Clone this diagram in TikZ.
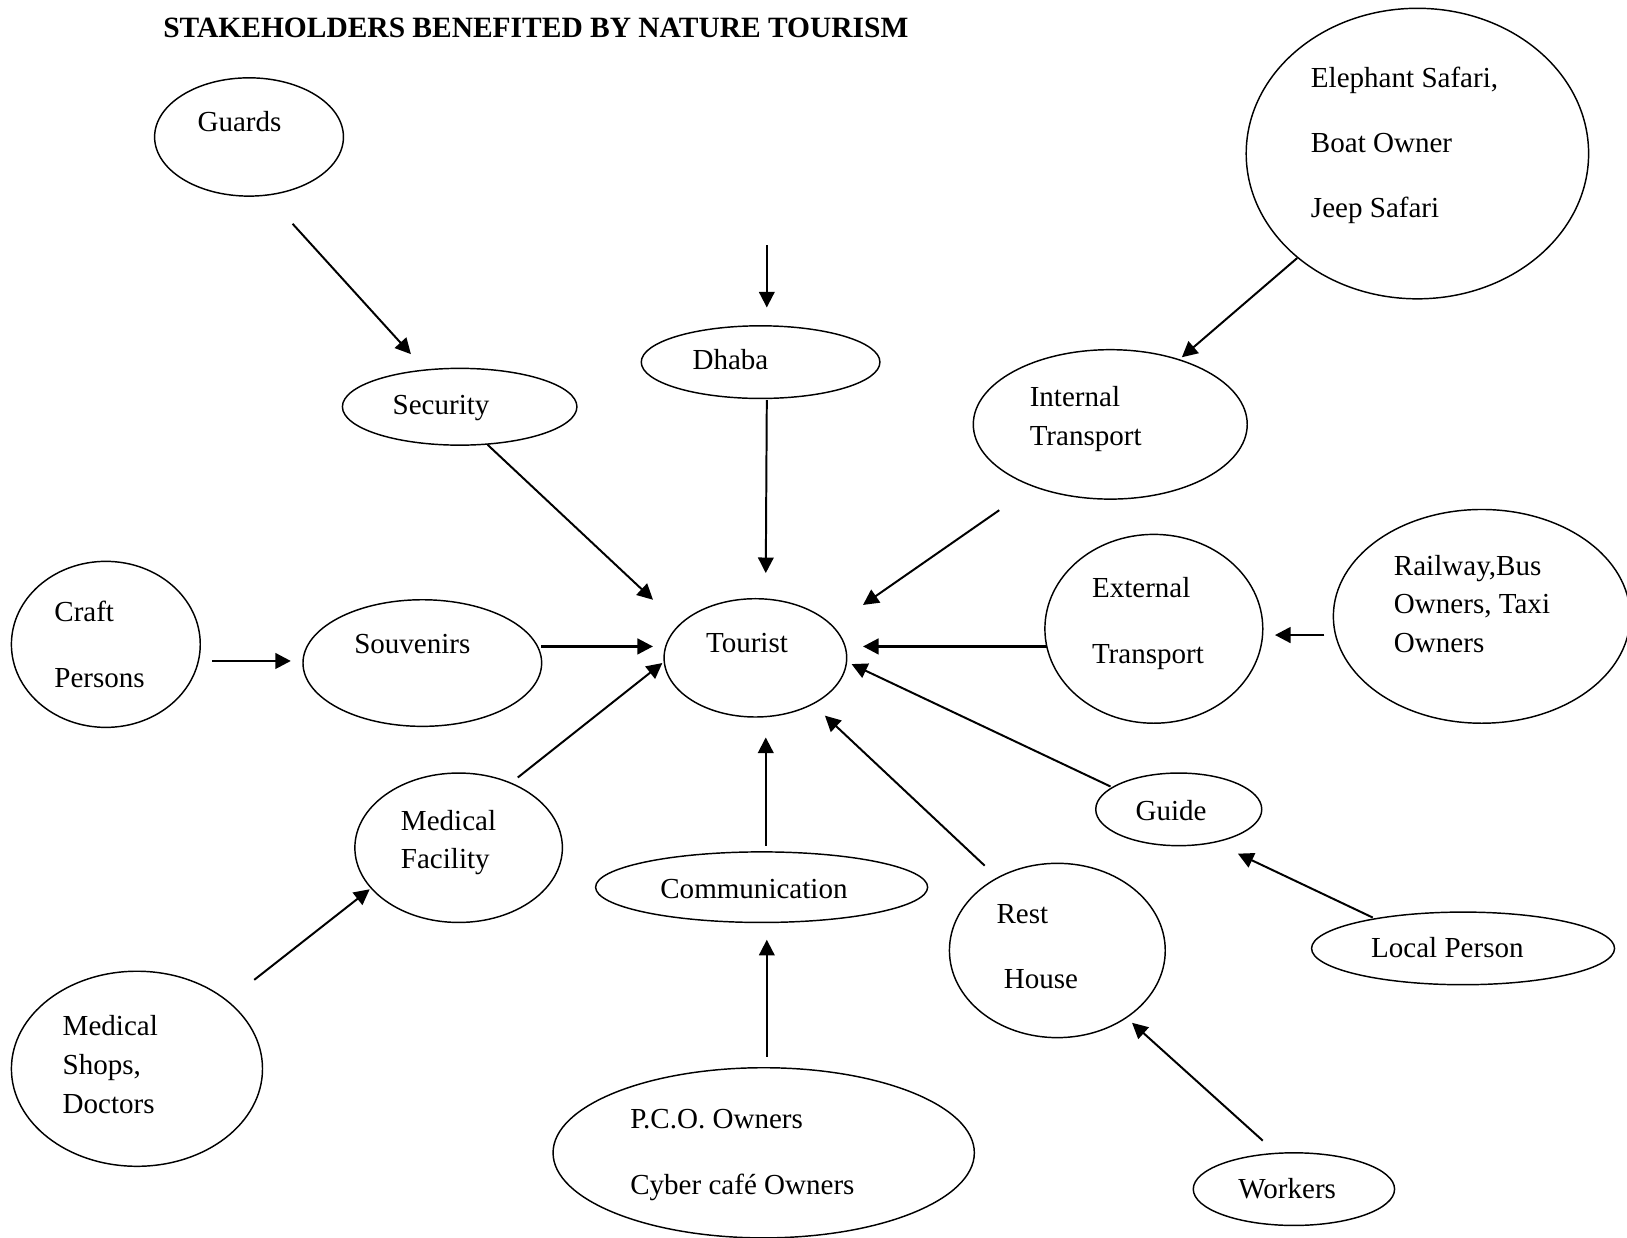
\documentclass[tikz,border=0pt]{standalone}
\usepackage{fontspec}
\setmainfont{Liberation Serif}
\usetikzlibrary{shapes.geometric, arrows.meta, calc}

\begin{document}
\begin{tikzpicture}[
    x=0.5pt, y=-0.5pt,
    oval/.style={ellipse, draw, line width=0.7pt, inner sep=0pt},
    txt/.style={anchor=west, inner sep=0pt, align=left, font=\fontsize{14}{18.7}\selectfont},
    txtwide/.style={txt, font=\fontsize{14}{31.5}\selectfont},
    arrow/.style={-{Triangle[length=7.5pt, width=7.5pt]}, line width=0.95pt},
    heavyarrow/.style={arrow, line width=1.3pt}
]
    \useasboundingbox (0,0) rectangle (1568,1193);

    \node[anchor=west, inner sep=0pt, font=\bfseries\fontsize{14.2}{17}\selectfont] (title) at (157,27) {STAKEHOLDERS BENEFITED BY NATURE TOURISM};

    % ovals
    \node[oval, minimum width=91pt, minimum height=57pt] (guards) at (240,132) {};
    \node[oval, minimum width=165pt, minimum height=140pt] (elephant) at (1366,148) {};
    \node[oval, minimum width=113pt, minimum height=37pt] (security) at (443,392) {};
    \node[oval, minimum width=115pt, minimum height=35pt] (dhaba) at (733,349) {};
    \node[oval, minimum width=132pt, minimum height=72pt] (internal) at (1070,409) {};
    \node[oval, minimum width=91pt, minimum height=80pt] (craft) at (102,621) {};
    \node[oval, minimum width=115pt, minimum height=61pt] (souvenirs) at (407,639) {};
    \node[oval, minimum width=88pt, minimum height=57pt] (tourist) at (728,634) {};
    \node[oval, minimum width=105pt, minimum height=91pt] (external) at (1112,606) {};
    \node[oval, minimum width=143pt, minimum height=103pt] (railway) at (1428,594) {};
    \node[oval, minimum width=80pt, minimum height=35pt] (guide) at (1136,780) {};
    \node[oval, minimum width=100pt, minimum height=72pt] (medical) at (442,817) {};
    \node[oval, minimum width=160pt, minimum height=34pt] (comm) at (734,855) {};
    \node[oval, minimum width=104pt, minimum height=84pt] (rest) at (1019,916) {};
    \node[oval, minimum width=146pt, minimum height=35pt] (local) at (1410,914) {};
    \node[oval, minimum width=121pt, minimum height=94pt] (shops) at (132,1030) {};
    \node[oval, minimum width=203pt, minimum height=82pt] (pco) at (736,1111) {};
    \node[oval, minimum width=97pt, minimum height=35pt] (workers) at (1247,1146) {};

    % texts
    \node[txt] (guards-t) at (190,117) {Guards};
    \node[txtwide] (elephant-t) at (1263,140) {Elephant Safari,\\Boat Owner\\Jeep Safari};
    \node[txt] (security-t) at (378,393) {Security};
    \node[txt] (dhaba-t) at (667,347) {Dhaba};
    \node[txt] (internal-t) at (992,404) {Internal\\Transport};
    \node[txtwide] (craft-t) at (52,621) {Craft\\Persons};
    \node[txt] (souvenirs-t) at (341,621) {Souvenirs};
    \node[txt] (tourist-t) at (680,620) {Tourist};
    \node[txtwide] (external-t) at (1052,601) {External\\Transport};
    \node[txt] (railway-t) at (1343,582) {Railway,Bus\\Owners, Taxi\\Owners};
    \node[txt] (guide-t) at (1094,781) {Guide};
    \node[txt] (medical-t) at (386,812) {Medical\\Facility};
    \node[txt] (comm-t) at (636,857) {Communication};
    \node[txtwide] (rest-t) at (960,912) {Rest\\\hspace{3.5pt}House};
    \node[txt] (local-t) at (1321,913) {Local Person};
    \node[txt] (shops-t) at (60,1026) {Medical\\Shops,\\Doctors};
    \node[txtwide] (pco-t) at (607,1113) {P.C.O. Owners\\Cyber café Owners};
    \node[txt] (workers-t) at (1193,1146) {Workers};

    \coordinate (dhaba-in) at ($(dhaba.north)+(6,-77)$);

    % arrows
    \draw[arrow] ($(guards.south)+(42,26)$) -- ($(security.north)+(-47,-13)$);
    \draw[arrow] (dhaba-in) -- ($(dhaba.north)+(6,-17)$);
    \draw[arrow] (elephant.221) -- ($(internal.north)+(69,8)$);
    \draw[arrow] ($(security.south)+(27,-1)$) -- ($(tourist.west)+(-10,-56)$);
    \draw[arrow] ($(dhaba.south)+(6,1)$) -- ($(tourist.north)+(10,-24)$);
    \draw[arrow] ($(internal.south)+(-107,10)$) -- ($(tourist.east)+(15,-51)$);
    \draw[heavyarrow] ($(craft.east)+(11,16)$) -- ($(souvenirs.west)+(-11,-2)$);
    \draw[heavyarrow] ($(souvenirs.east)+(-1,-16)$) -- ($(tourist.west)+(-10,-11)$);
    \draw[heavyarrow] ($(external.west)+(3,17)$) -- ($(tourist.east)+(15,-11)$);
    \draw[heavyarrow] ($(railway.west)+(-8,18)$) -- ($(external.east)+(11,6)$);
    \draw[arrow] ($(medical.north)+(57,5)$) -- ($(tourist.west)+(-1,5)$);
    \draw[arrow] ($(guide.west)+(15,-22)$) -- ($(tourist.east)+(4,6)$);
    \draw[arrow] ($(comm.north)+(4,-5)$) -- ($(tourist.south)+(10,19)$);
    \draw[arrow] ($(rest.north)+(-70,3)$) -- ($(tourist.south)+(67,-2)$);
    \draw[arrow] ($(shops.north)+(113,9)$) -- ($(medical.west)+(15,40)$);
    \draw[arrow] ($(pco.north)+(3,-10)$) -- ($(comm.south)+(5,16)$);
    \draw[arrow] ($(local.north)+(-87,6)$) -- ($(guide.south)+(57,7)$);
    \draw[arrow] ($(workers.north)+(-30,-11)$) -- ($(rest.south)+(72,-15)$);
\end{tikzpicture}
\end{document}
